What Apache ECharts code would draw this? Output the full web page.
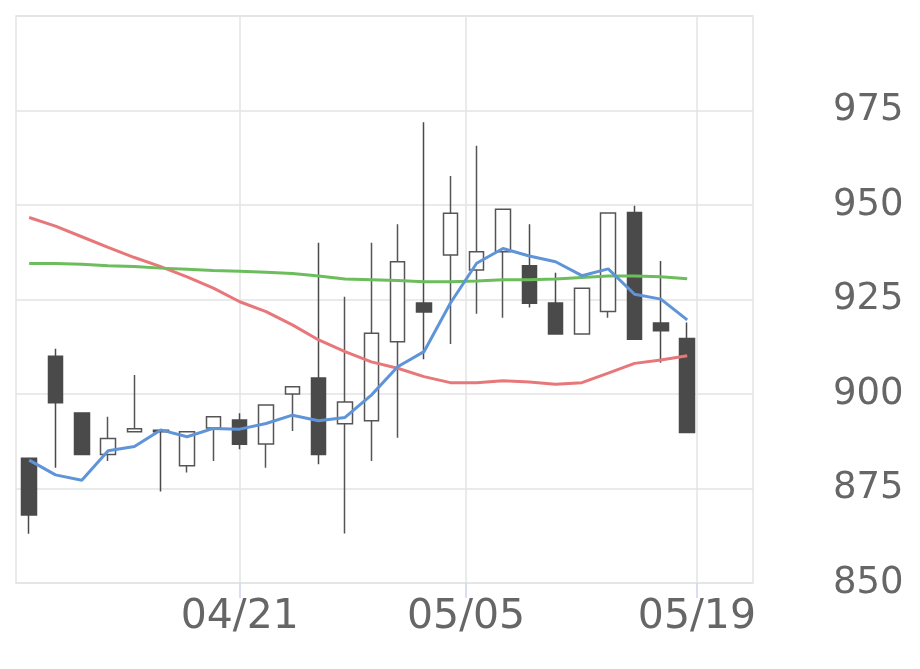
<!DOCTYPE html>
<html>
<head>
<meta charset="utf-8">
<script src="https://cdn.jsdelivr.net/npm/echarts@6/dist/echarts.min.js"></script>
<style>html,body{margin:0;padding:0;background:#fff;}#c{width:920px;height:669px;}</style>
</head>
<body>
<div id="c"></div>
<script>
// trading days (two trailing empty slots)
var categories = ['04/09','04/10','04/11','04/14','04/15','04/16','04/17','04/18','04/21','04/22','04/23','04/24','04/25','04/28','04/30','05/01','05/02','05/07','05/08','05/09','05/12','05/13','05/14','05/15','05/16','05/19','',''];
// [open, close, low, high]
var ohlc = [
  [883, 868, 863, 883],
  [910, 897.7, 880.5, 912],
  [895, 884, 884, 895],
  [884, 888.2, 882.3, 894],
  [890, 890.8, 890, 905],
  [890.4, 890, 874.2, 890.4],
  [881, 890, 879.2, 890],
  [891, 894, 882.3, 894],
  [893.1, 886.7, 885.4, 894.9],
  [886.8, 897.1, 880.5, 897.1],
  [900, 901.9, 890.2, 901.9],
  [904.2, 884, 881.4, 940],
  [892.1, 897.9, 863.1, 925.7],
  [892.9, 916.1, 882.3, 940],
  [913.8, 935, 888.4, 944.9],
  [924.1, 921.7, 909.2, 971.9],
  [936.8, 947.8, 913.2, 957.7],
  [932.8, 937.6, 921.2, 965.7],
  [937.6, 948.9, 920.2, 948.9],
  [933.9, 924, 922.9, 944.9],
  [924.1, 915.9, 915.9, 932.1],
  [915.9, 928, 915.9, 928],
  [921.8, 947.9, 920.2, 947.9],
  [948, 914.5, 914.5, 949.8],
  [918.8, 916.7, 908.3, 935.2],
  [914.7, 889.8, 889.8, 918.9]
];
var ma5 = [882.5, 878.6, 877.2, 885.0, 886.1, 890.5, 888.7, 890.9, 890.7, 892.2, 894.4, 892.9, 893.8, 899.7, 907.2, 911.2, 924.0, 934.6, 938.5, 936.5, 935.0, 931.3, 933.1, 926.4, 925.1, 919.6];
var ma25 = [946.7, 944.4, 941.6, 938.8, 936.1, 933.7, 931.0, 928.0, 924.4, 921.8, 918.3, 914.3, 911.2, 908.5, 906.8, 904.6, 903.0, 903.0, 903.5, 903.2, 902.6, 903.0, 905.5, 908.1, 909.0, 910.1];
var ma75 = [934.5, 934.5, 934.3, 933.9, 933.7, 933.3, 933.0, 932.7, 932.5, 932.2, 931.9, 931.2, 930.4, 930.2, 930.0, 929.7, 929.7, 929.9, 930.2, 930.2, 930.4, 930.8, 931.2, 931.2, 931.0, 930.5];
// date tick positions, in slot units along the x range
var tickPositions = [8.5, 17.1, 25.87];
var tickLabels = ['04/21', '05/05', '05/19'];
var yTicks = [850, 875, 900, 925, 950, 975, 1000];

var chart = echarts.init(document.getElementById('c'), null, {renderer: 'canvas'});
var grey = '#e3e3e3';
chart.setOption({
  animation: false,
  backgroundColor: '#ffffff',
  grid: {left: 16, right: 167, top: 16, bottom: 86, show: true, borderColor: grey, borderWidth: 1.5, backgroundColor: 'transparent'},
  xAxis: [
    {
      type: 'category', data: categories, boundaryGap: true, position: 'bottom',
      axisLine: {show: false}, axisTick: {show: false}, axisLabel: {show: false}, splitLine: {show: false}
    },
    {
      type: 'value', min: 0, max: categories.length, position: 'bottom',
      axisLine: {show: false},
      axisTick: {show: true, customValues: tickPositions, length: 15, lineStyle: {color: '#ccd6eb', width: 1.5}},
      axisLabel: {
        show: true, customValues: tickPositions, fontSize: 41, color: '#666666', margin: 14,
        fontFamily: 'DejaVu Sans',
        formatter: function (v) {
          for (var i = 0; i < tickPositions.length; i++) { if (Math.abs(tickPositions[i] - v) < 1e-6) return tickLabels[i]; }
          return '';
        }
      },
      splitLine: {show: true, lineStyle: {color: grey, width: 1.5}}
    }
  ],
  yAxis: {
    type: 'value', position: 'right', min: yTicks[0], max: yTicks[yTicks.length - 1], interval: 25, scale: true,
    axisLine: {show: false}, axisTick: {show: false},
    axisLabel: {fontSize: 37, color: '#666666', margin: 80, fontFamily: 'DejaVu Sans', showMaxLabel: false},
    splitLine: {show: true, lineStyle: {color: grey, width: 1.5}}
  },
  series: [
    {
      type: 'candlestick', xAxisIndex: 0, data: ohlc, barWidth: 15,
      itemStyle: {color: '#ffffff', color0: '#4a4a4a', borderColor: '#555555', borderColor0: '#4a4a4a', borderWidth: 1.5}
    },
    {type: 'line', xAxisIndex: 0, data: ma25, symbol: 'none', lineStyle: {color: '#e8777a', width: 3}, z: 3},
    {type: 'line', xAxisIndex: 0, data: ma75, symbol: 'none', lineStyle: {color: '#6cbd5c', width: 3}, z: 3},
    {type: 'line', xAxisIndex: 0, data: ma5, symbol: 'none', lineStyle: {color: '#5f94d8', width: 3}, z: 4}
  ]
});
</script>
</body>
</html>
